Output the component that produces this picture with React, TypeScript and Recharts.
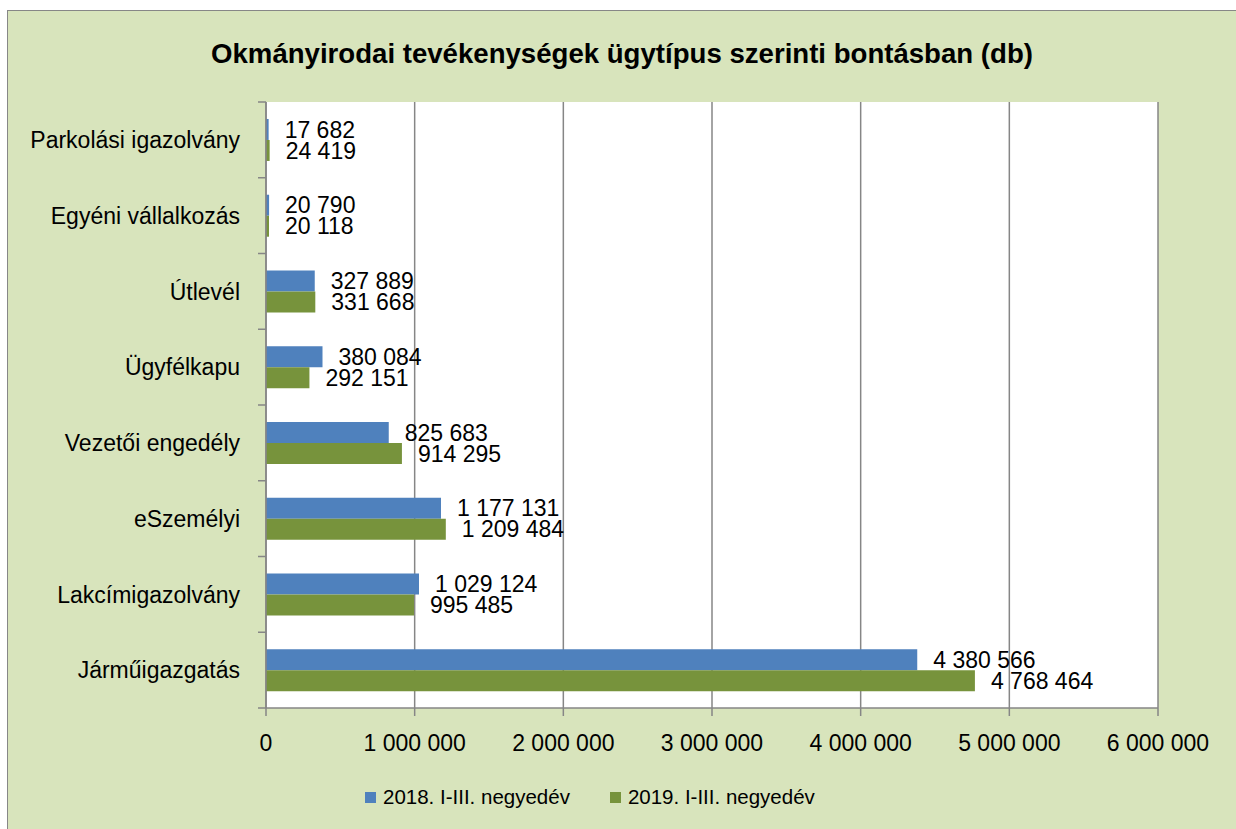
import React from 'react';
import { BarChart, Bar, XAxis, YAxis, CartesianGrid, LabelList } from 'recharts';

const categories = [
  'Parkolási igazolvány',
  'Egyéni vállalkozás',
  'Útlevél',
  'Ügyfélkapu',
  'Vezetői engedély',
  'eSzemélyi',
  'Lakcímigazolvány',
  'Járműigazgatás',
];
const series2018 = [17682, 20790, 327889, 380084, 825683, 1177131, 1029124, 4380566];
const series2019 = [24419, 20118, 331668, 292151, 914295, 1209484, 995485, 4768464];
const xTicks = [0, 1000000, 2000000, 3000000, 4000000, 5000000, 6000000];
const seriesNames = ['2018. I-III. negyedév', '2019. I-III. negyedév'];
const title = 'Okmányirodai tevékenységek ügytípus szerinti bontásban (db)';

const data = categories.map((name, i) => ({ name, a: series2018[i], b: series2019[i] }));

const BLUE = '#4f81bd';
const GREEN = '#77933c';
const GRID = '#868686';
const BG = '#d8e4bc';
const FONT = '"Liberation Sans", Arial, sans-serif';
const FS = 23;

const W = 1236;
const H = 829;
const M = { top: 102, right: 78, bottom: 81, left: 0 };
const X_AXIS_H = 40;
const Y_AXIS_W = 266;
const BAND = (H - M.top - M.bottom - X_AXIS_H) / categories.length;

const fmt = (v: any) => String(v).replace(/\B(?=(\d{3})+(?!\d))/g, ' ');

const YTick = (props: any) => {
  const { x, y, payload, index } = props;
  const last = index === categories.length - 1;
  return (
    <g>
      <line x1={x - 8} x2={x} y1={y - BAND / 2} y2={y - BAND / 2} stroke={GRID} strokeWidth={1.5} />
      {last && <line x1={x - 8} x2={x} y1={y + BAND / 2} y2={y + BAND / 2} stroke={GRID} strokeWidth={1.5} />}
      <text x={x - 26} y={y} dy="0.36em" textAnchor="end" fontSize={FS} fontFamily={FONT} fill="#000">
        {payload.value}
      </text>
    </g>
  );
};

export default function App() {
  return (
    <div style={{ position: 'absolute', left: 0, top: 0, width: W, height: H, overflow: 'hidden' }}>
      <div
        style={{
          position: 'absolute',
          left: 7,
          top: 10,
          width: 1260,
          height: 850,
          background: BG,
          border: '1.5px solid #878787',
          boxSizing: 'border-box',
        }}
      />
      <div
        style={{
          position: 'absolute',
          left: 0,
          width: W,
          top: 37,
          textAlign: 'center',
          fontFamily: FONT,
          fontWeight: 'bold',
          fontSize: 27.6,
          lineHeight: '34px',
          color: '#000',
          paddingLeft: 8,
          boxSizing: 'border-box',
        }}
      >
        {title}
      </div>
      <div style={{ position: 'absolute', left: 0, top: 0 }}>
        <BarChart
          width={W}
          height={H}
          data={data}
          layout="vertical"
          margin={M}
          barCategoryGap="22.4%"
          barGap={0}
        >
          <CartesianGrid horizontal={false} vertical stroke={GRID} strokeWidth={1.5} fill="#ffffff" fillOpacity={1} />
          <XAxis
            type="number"
            domain={[0, 6000000]}
            ticks={xTicks}
            interval={0}
            height={X_AXIS_H}
            tickFormatter={fmt}
            axisLine={{ stroke: GRID, strokeWidth: 1.5 }}
            tickLine={{ stroke: GRID, strokeWidth: 1.5 }}
            tickSize={8}
            tickMargin={19}
            tick={{ fill: '#000', fontSize: FS, fontFamily: FONT }}
          />
          <YAxis
            type="category"
            dataKey="name"
            width={Y_AXIS_W}
            axisLine={{ stroke: GRID, strokeWidth: 1.5 }}
            tickLine={false}
            tickSize={0}
            tickMargin={0}
            interval={0}
            tick={<YTick />}
          />
          <Bar dataKey="a" name={seriesNames[0]} fill={BLUE} isAnimationActive={false}>
            <LabelList dataKey="a" position="right" offset={16} formatter={fmt} fill="#000" fontSize={FS} fontFamily={FONT} />
          </Bar>
          <Bar dataKey="b" name={seriesNames[1]} fill={GREEN} isAnimationActive={false}>
            <LabelList dataKey="b" position="right" offset={16} formatter={fmt} fill="#000" fontSize={FS} fontFamily={FONT} />
          </Bar>
        </BarChart>
      </div>
      <div
        style={{
          position: 'absolute',
          left: 365,
          top: 782,
          display: 'flex',
          alignItems: 'center',
          fontFamily: FONT,
          fontSize: 20.5,
          lineHeight: '30px',
          color: '#000',
        }}
      >
        <span style={{ width: 11, height: 11, background: BLUE, display: 'inline-block', marginRight: 7 }} />
        <span>{seriesNames[0]}</span>
        <span style={{ width: 11, height: 11, background: GREEN, display: 'inline-block', marginLeft: 40, marginRight: 7 }} />
        <span>{seriesNames[1]}</span>
      </div>
    </div>
  );
}
